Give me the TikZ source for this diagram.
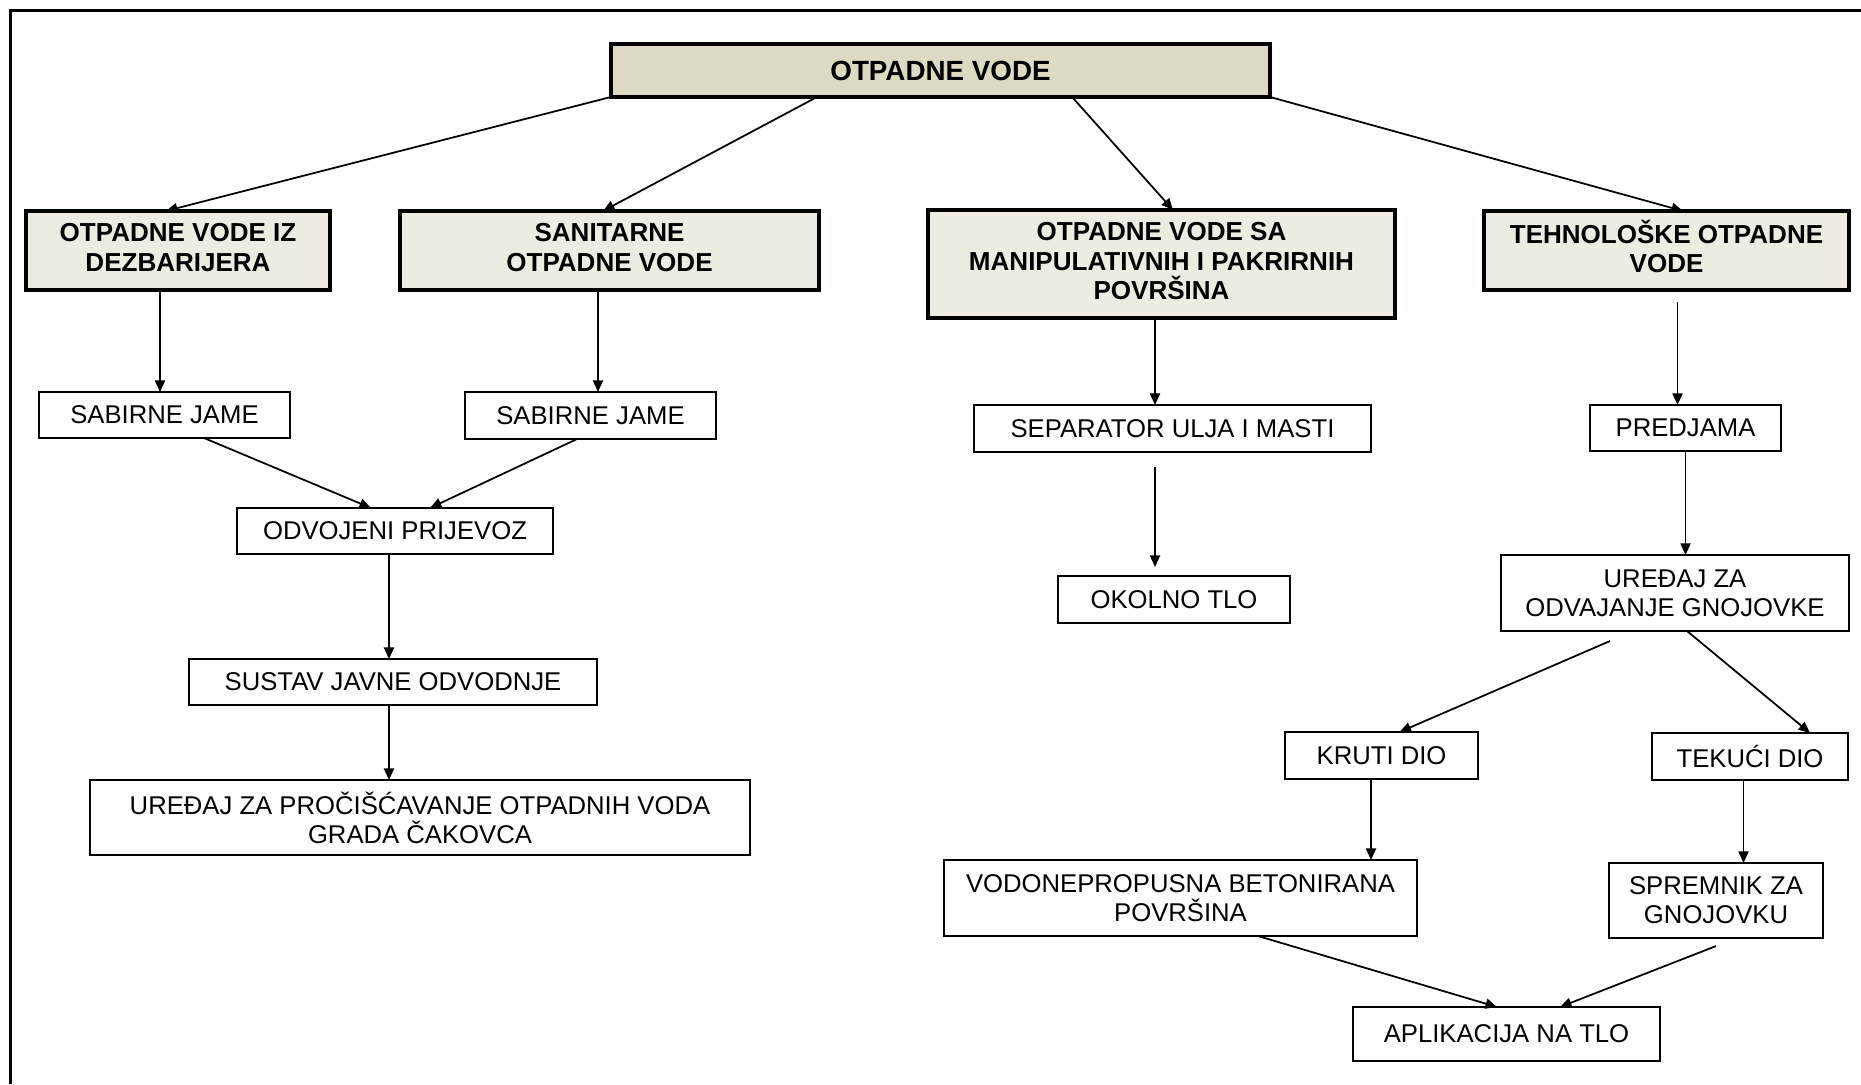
\documentclass[tikz,border=0pt]{standalone}
\usepackage{fontspec}
\setmainfont{Liberation Sans}
\usetikzlibrary{arrows.meta,calc}
\definecolor{tanA}{HTML}{DDD9C3}
\definecolor{tanB}{HTML}{EEECE1}
\begin{document}
\begin{tikzpicture}[x=0.01cm,y=-0.01cm,
  base/.style={draw, inner sep=0pt, outer sep=0pt, align=center, text=black},
  topbox/.style={base, fill=tanA, line width=1.2pt, font=\bfseries\fontsize{7.9}{9}\selectfont},
  headbox/.style={base, fill=tanB, line width=1pt, font=\bfseries\fontsize{7.4}{8.4}\selectfont},
  plainbox/.style={base, fill=white, line width=0.45pt, font=\fontsize{7.3}{8.2}\selectfont},
  arr/.style={line width=0.5pt, -{Triangle[length=0.115cm,width=0.1cm]}},
]
\useasboundingbox (0,0) rectangle (1861,1084);
\fill[white] (0,0) rectangle (1861,1084);
\draw[line width=1.1pt] (10.5,1084) -- (10.5,10.5) -- (1861,10.5);

\node[topbox, minimum width=6.59cm, minimum height=0.53cm] (top) at (940.5,70.5) {OTPADNE VODE};
\node[headbox, minimum width=3.04cm, minimum height=0.79cm] (dez) at (178,250.5) {OTPADNE VODE IZ\\DEZBARIJERA\rule[-0.06cm]{0pt}{0pt}};
\node[headbox, minimum width=4.19cm, minimum height=0.79cm] (san) at (609.5,250.5) {SANITARNE\\OTPADNE VODE\rule[-0.06cm]{0pt}{0pt}};
\node[headbox, minimum width=4.67cm, minimum height=1.08cm] (man) at (1161.5,264) {OTPADNE VODE SA\\MANIPULATIVNIH I PAKRIRNIH\\POVRŠINA\rule[-0.06cm]{0pt}{0pt}};
\node[headbox, minimum width=3.65cm, minimum height=0.79cm] (teh) at (1666.5,250.5) {TEHNOLOŠKE OTPADNE\\VODE\rule[-0.08cm]{0pt}{0pt}};

\node[plainbox, minimum width=2.51cm, minimum height=0.46cm] (sab1) at (164.5,415) {SABIRNE JAME};
\node[plainbox, minimum width=2.51cm, minimum height=0.47cm] (sab2) at (590.5,415.5) {SABIRNE JAME};
\node[plainbox, minimum width=3.16cm, minimum height=0.46cm] (odv) at (395,531) {ODVOJENI PRIJEVOZ};
\node[plainbox, minimum width=4.08cm, minimum height=0.46cm] (sus) at (393,682) {SUSTAV JAVNE ODVODNJE};
\node[plainbox, minimum width=6.60cm, minimum height=0.75cm] (ure) at (420,817.5) {UREĐAJ ZA PROČIŠĆAVANJE OTPADNIH VODA\\GRADA ČAKOVCA};
\node[plainbox, minimum width=3.97cm, minimum height=0.47cm] (sep) at (1172.5,428.5) {SEPARATOR ULJA I MASTI};
\node[plainbox, minimum width=2.32cm, minimum height=0.47cm] (oko) at (1174,599.5) {OKOLNO TLO};
\node[plainbox, minimum width=1.91cm, minimum height=0.46cm] (pred) at (1685.5,428) {PREDJAMA};
\node[plainbox, minimum width=3.48cm, minimum height=0.76cm] (ureg) at (1675,593) {UREĐAJ ZA\\ODVAJANJE GNOJOVKE};
\node[plainbox, minimum width=1.93cm, minimum height=0.47cm] (kru) at (1381.5,755.5) {KRUTI DIO};
\node[plainbox, minimum width=1.96cm, minimum height=0.47cm] (tek) at (1750,756.5) {TEKUĆI DIO};
\node[plainbox, minimum width=4.73cm, minimum height=0.76cm] (vod) at (1180.5,898) {VODONEPROPUSNA BETONIRANA\\POVRŠINA};
\node[plainbox, minimum width=2.14cm, minimum height=0.75cm] (spr) at (1716,900.5) {SPREMNIK ZA\\GNOJOVKU};
\node[plainbox, minimum width=3.07cm, minimum height=0.54cm] (apl) at (1506.5,1034) {APLIKACIJA NA TLO};

\draw[arr] (top.south west) -- ([xshift=-0.12cm]dez.north);
\draw[arr] ([xshift=-1.235cm]top.south) -- ([xshift=-0.065cm]san.north);
\draw[arr] ([xshift=1.315cm]top.south) -- ([xshift=0.115cm]man.north);
\draw[arr] (top.south east) -- ([xshift=0.165cm]teh.north);
\draw[arr] ([xshift=-0.18cm]dez.south) -- ([xshift=-0.18cm]dez.south |- sab1.north);
\draw[arr] ([xshift=-0.115cm]san.south) -- ([xshift=-0.115cm]san.south |- sab2.north);
\draw[arr] ([xshift=0.395cm]sab1.south) -- ([xshift=-0.24cm]odv.north);
\draw[arr] ([xshift=-0.135cm]sab2.south) -- ([xshift=0.35cm]odv.north);
\draw[arr] ([xshift=-0.06cm]odv.south) -- ([xshift=-0.06cm]odv.south |- sus.north);
\draw[arr] ([xshift=-0.04cm]sus.south) -- ([xshift=-0.04cm]sus.south |- ure.north);
\draw[arr] ([xshift=-0.065cm]man.south) -- ([xshift=-0.065cm]man.south |- sep.north);
\draw[arr, shorten >=0.09cm] ([xshift=-0.175cm,yshift=-0.15cm]sep.south) -- ([xshift=-0.175cm]sep.south |- oko.north);
\draw[arr] ([xshift=0.11cm,yshift=-0.12cm]teh.south) -- ([xshift=0.11cm]teh.south |- pred.north);
\draw[arr] (pred.south) -- (pred.south |- ureg.north);
\draw[arr] ([xshift=-0.65cm,yshift=-0.1cm]ureg.south) -- ([xshift=0.18cm]kru.north);
\draw[arr] ([xshift=0.12cm]ureg.south) -- ([xshift=0.6cm]tek.north);
\draw[arr] ([xshift=-0.105cm]kru.south) -- ([xshift=-0.105cm]kru.south |- vod.north);
\draw[arr] ([xshift=-0.065cm]tek.south) -- ([xshift=-0.065cm]tek.south |- spr.north);
\draw[arr] ([xshift=0.775cm]vod.south) -- ([xshift=-0.095cm]apl.north);
\draw[arr] ([yshift=-0.08cm]spr.south) -- ([xshift=0.535cm]apl.north);
\end{tikzpicture}
\end{document}
